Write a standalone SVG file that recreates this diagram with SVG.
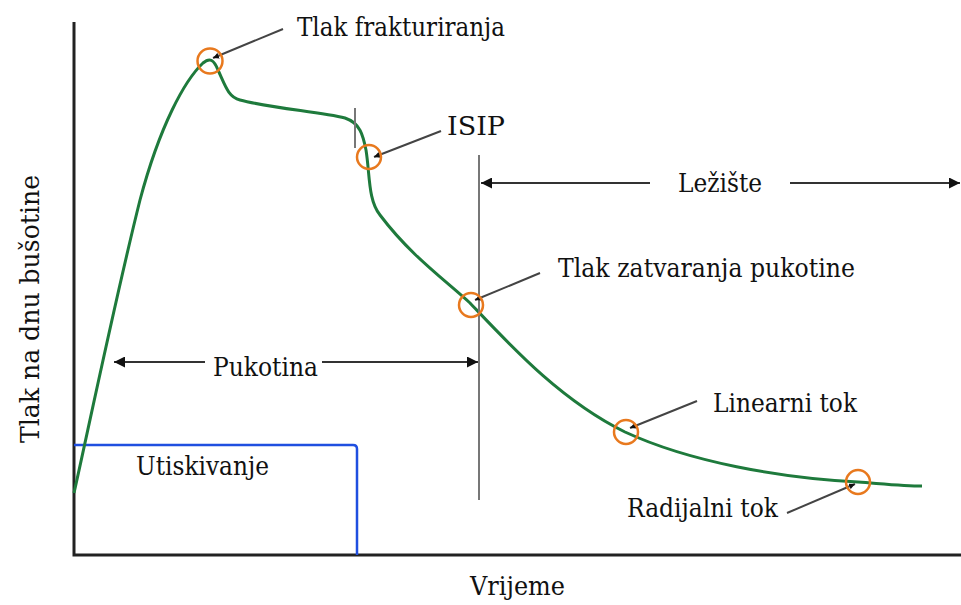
<svg xmlns="http://www.w3.org/2000/svg" width="961" height="605" viewBox="0 0 961 605">
<defs>
<marker id="ah" viewBox="0 0 10 10" refX="10" refY="5" markerWidth="11" markerHeight="11" markerUnits="userSpaceOnUse" orient="auto">
<path d="M0,0 L10,5 L0,10 z" fill="#111"/>
</marker>
<marker id="sm" viewBox="0 0 10 10" refX="10" refY="5" markerWidth="6" markerHeight="6" markerUnits="userSpaceOnUse" orient="auto">
<path d="M0,0 L10,5 L0,10 z" fill="#111"/>
</marker>
</defs>
<style>
.t{font-family:'DejaVu Serif',serif;font-size:26px;fill:#111}
.ax{stroke:#222;stroke-width:3;fill:none}
.vl{stroke:#777;stroke-width:2;fill:none}
.dim{stroke:#333;stroke-width:2;fill:none}
.ld{stroke:#444;stroke-width:2;fill:none}
.mk{fill:none;stroke:#E8791E;stroke-width:2.5}
</style>
<rect width="961" height="605" fill="#fff"/>
<g id="axes">
<path class="ax" d="M74,22 V555 H961"/>
</g>
<g id="injection">
<path d="M74,445 H353 Q357,445 357,449 V555" fill="none" stroke="#1f4fe0" stroke-width="2.5"/>
<text class="t" x="136" y="475" textLength="133" lengthAdjust="spacingAndGlyphs">Utiskivanje</text>
</g>
<g id="curve">
<path d="M74,493 C86,440 115,300 140,200 C160,125 185,80 203,63 C210,57 214,60 218,70 C225,85 228,97 240,100 C270,108 320,112 345,118 C360,123 363,135 366,150 C370,175 368,200 380,215 C410,255 445,280 470,303 C510,345 560,400 625,432 C690,462 780,478 858,482 C885,484 905,486 922,486" fill="none" stroke="#1e7a3c" stroke-width="3"/>
</g>
<g id="guides">
<line class="vl" x1="355" y1="108" x2="355" y2="148"/>
<line class="vl" x1="479" y1="155" x2="479" y2="500"/>
</g>
<g id="connectors">
<line class="dim" x1="205" y1="362" x2="114" y2="362" marker-end="url(#ah)"/>
<line class="dim" x1="322" y1="362" x2="478" y2="362" marker-end="url(#ah)"/>
<line class="dim" x1="650" y1="183" x2="481" y2="183" marker-end="url(#ah)"/>
<line class="dim" x1="790" y1="183" x2="960" y2="183" marker-end="url(#ah)"/>
<line class="ld" x1="283" y1="29" x2="213" y2="58" marker-end="url(#sm)"/>
<line class="ld" x1="441" y1="131" x2="374" y2="157" marker-end="url(#sm)"/>
<line class="ld" x1="540" y1="273" x2="475" y2="300" marker-end="url(#sm)"/>
<line class="ld" x1="697" y1="401" x2="630" y2="428" marker-end="url(#sm)"/>
<line class="ld" x1="787" y1="513" x2="855" y2="484" marker-end="url(#sm)"/>
</g>
<g id="p-frac">
<circle class="mk" cx="210" cy="61" r="12.5"/>
<text class="t" x="297" y="36" textLength="208" lengthAdjust="spacingAndGlyphs">Tlak frakturiranja</text>
</g>
<g id="p-isip">
<circle class="mk" cx="369" cy="157" r="12"/>
<text class="t" x="447" y="135" textLength="58" lengthAdjust="spacingAndGlyphs">ISIP</text>
</g>
<g id="p-close">
<circle class="mk" cx="471" cy="305" r="12"/>
<text class="t" x="558" y="277" textLength="297" lengthAdjust="spacingAndGlyphs">Tlak zatvaranja pukotine</text>
</g>
<g id="p-lin">
<circle class="mk" cx="626" cy="432" r="12"/>
<text class="t" x="713" y="412" textLength="144" lengthAdjust="spacingAndGlyphs">Linearni tok</text>
</g>
<g id="p-rad">
<circle class="mk" cx="858" cy="482" r="12"/>
<text class="t" x="627" y="517" textLength="151" lengthAdjust="spacingAndGlyphs">Radijalni tok</text>
</g>
<g id="labels">
<text class="t" x="213" y="376" textLength="105" lengthAdjust="spacingAndGlyphs">Pukotina</text>
<text class="t" x="678" y="192" textLength="84" lengthAdjust="spacingAndGlyphs">Ležište</text>
<text class="t" x="470" y="595" textLength="95" lengthAdjust="spacingAndGlyphs">Vrijeme</text>
<text class="t" transform="translate(39,443) rotate(-90)" textLength="268" lengthAdjust="spacingAndGlyphs">Tlak na dnu bušotine</text>
</g>
</svg>
